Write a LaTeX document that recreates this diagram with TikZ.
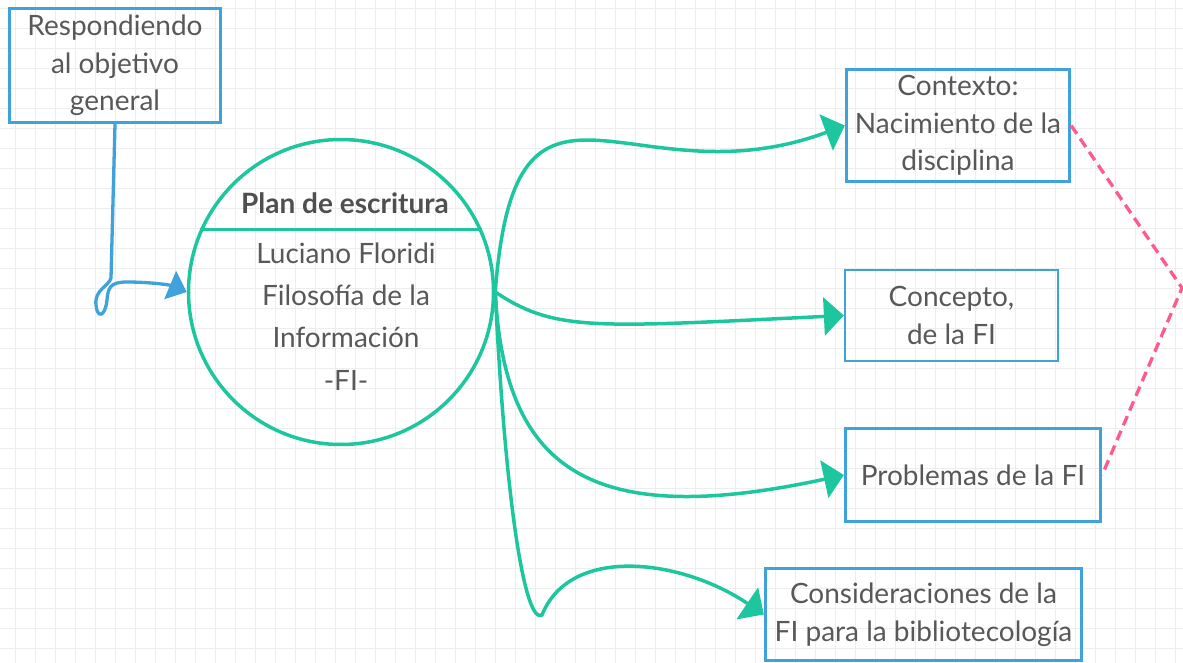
\documentclass[tikz,border=0pt]{standalone}
\usepackage{fontspec}
\setmainfont{Lato}
\usetikzlibrary{positioning,arrows.meta}

\definecolor{boxblue}{HTML}{3FA2DB}
\definecolor{planteal}{HTML}{1DC69F}
\definecolor{linkpink}{HTML}{FF5A8C}
\definecolor{textgrey}{HTML}{585858}
\definecolor{gridgrey}{HTML}{EDEDED}

\begin{document}
\begin{tikzpicture}[x=1pt,y=-1pt,
    box/.style={draw=boxblue,line width=3.3pt,align=center,text=textgrey,inner sep=0pt,
        font=\fontsize{28}{37.5}\selectfont},
    link/.style={planteal,line width=3.5pt,-{Triangle[length=20pt,width=38pt]}},
    objlink/.style={boxblue,line width=3.3pt,-{Triangle[length=18pt,width=30pt]}},
    pinkdash/.style={linkpink,line width=3.3pt,dash pattern=on 10pt off 6pt},
    gridline/.style={gridgrey,line width=1.2pt}
    ]
    \useasboundingbox (0,0) rectangle (1183,663);

    % background grid
    \foreach \gx in {15.5,35.5,...,1183} \draw[gridline] (\gx,0) -- (\gx,663);
    \foreach \gy in {8.5,28.5,...,663} \draw[gridline] (0,\gy) -- (1183,\gy);

    \draw
        node[box,minimum width=211pt,minimum height=114pt] (obj) at (115,65.5) {Respondiendo\\al objetivo\\general}

        node[circle,draw=planteal,line width=3.5pt,minimum size=305pt,inner sep=0pt] (plan) at (341,292) {}
        node[text=textgrey!90!black,font=\fontsize{28}{37.5}\selectfont\bfseries] (title) at (345,203) {Plan de escritura}
        node[align=center,text=textgrey,inner sep=0pt,font=\fontsize{28}{42.3}\selectfont] (author) at (346,316.5) {Luciano Floridi\\Filosofía de la\\Información\\-FI-}

        node[box,minimum width=223pt,minimum height=112pt] (ctx) at (958,125.5) {Contexto:\\Nacimiento de la\\disciplina}
        node[box,line width=2.2pt,minimum width=213pt,minimum height=91pt] (conc) at (951.5,315.5) {Concepto,\\de la FI}
        node[box,minimum width=255pt,minimum height=93pt] (prob) at (973,475) {Problemas de la FI}
        node[box,minimum width=316pt,minimum height=92pt] (cons) at (923.5,614.5) {Consideraciones de la\\FI para la bibliotecología}
    ;
    \draw[planteal,line width=3.5pt] (plan.156) -- (plan.24);

    \coordinate (consbend) at (542,615);
    \coordinate (pinkturn) at (1182,288);

    \draw[objlink] (obj.south) -- (111,278) .. controls (109,286) and (94,290) .. (96,305)
        .. controls (97,318) and (105,318) .. (107,300)
        .. controls (108,288) and (110,282) .. (127,282)
        .. controls (150,282) and (170,285) .. (plan.west);

    \draw[link] (plan.east) .. controls +(20,-265) and +(-215,80) .. (ctx.west);
    \draw[link] (plan.east) .. controls +(60,40) and +(-250,12) .. (conc.west);
    \draw[link] (plan.east) .. controls +(9,178) and +(-254,55) .. (prob.west);
    \draw[link] (plan.east) .. controls +(10,210) and +(-17,10) .. (consbend)
        .. controls +(28,-70) and +(-83,-56) .. (cons.west);

    \draw[pinkdash] (ctx.east) -- (pinkturn) -- (prob.east);
\end{tikzpicture}
\end{document}
